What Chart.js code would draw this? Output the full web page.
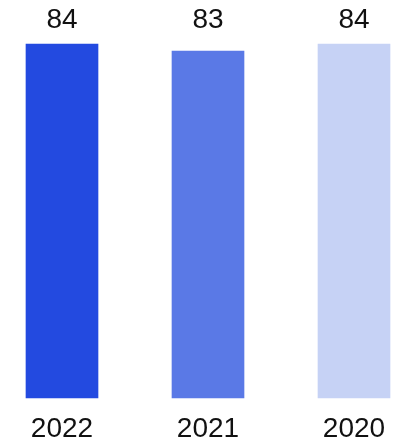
<!DOCTYPE html>
<html>
<head>
<meta charset="utf-8">
<script src="https://cdn.jsdelivr.net/npm/chart.js@4.4.1/dist/chart.umd.min.js"></script>
<style>
  html, body { margin: 0; padding: 0; background: #ffffff; }
  #wrap { width: 407px; height: 441px; position: relative; }
</style>
</head>
<body>
<div id="wrap"><canvas id="c" width="407" height="441"></canvas></div>
<script>
// Yearly scores
const years = ['2022', '2021', '2020'];
const scores = [84, 83, 84];
const barColors = ['#234ae0', '#5a79e6', '#c6d2f5'];

const FONT = '"Liberation Sans", Arial, Helvetica, sans-serif';

// Value labels printed along the top, above each bar
const valueLabels = {
  id: 'valueLabels',
  afterDatasetsDraw(chart) {
    const ctx = chart.ctx;
    const meta = chart.getDatasetMeta(0);
    ctx.save();
    ctx.font = '28px ' + FONT;
    ctx.fillStyle = '#111111';
    ctx.textAlign = 'center';
    ctx.textBaseline = 'middle';
    meta.data.forEach((bar, i) => {
      ctx.fillText(String(scores[i]), bar.x, 20);
    });
    ctx.restore();
  }
};

new Chart(document.getElementById('c'), {
  type: 'bar',
  data: {
    labels: years,
    datasets: [{
      data: scores,
      backgroundColor: barColors,
      borderWidth: 0,
      barThickness: 72,
      // bars sit on the category points at the chart edges, so let them
      // spill sideways while still cutting them off at the bottom
      clip: { left: false, right: false, top: false, bottom: 0 }
    }]
  },
  options: {
    responsive: false,
    animation: false,
    devicePixelRatio: 1,
    layout: { padding: { left: 62, right: 53, top: 44, bottom: -19.6 } },
    plugins: {
      legend: { display: false },
      tooltip: { enabled: false }
    },
    scales: {
      x: {
        offset: false,
        grid: { display: false, drawTicks: false, tickLength: 0 },
        border: { display: false },
        ticks: {
          color: '#111111',
          padding: 14.4,
          font: { family: FONT, size: 28 }
        }
      },
      y: {
        display: false,
        min: 34,
        max: 84
      }
    }
  },
  plugins: [valueLabels]
});
</script>
</body>
</html>
